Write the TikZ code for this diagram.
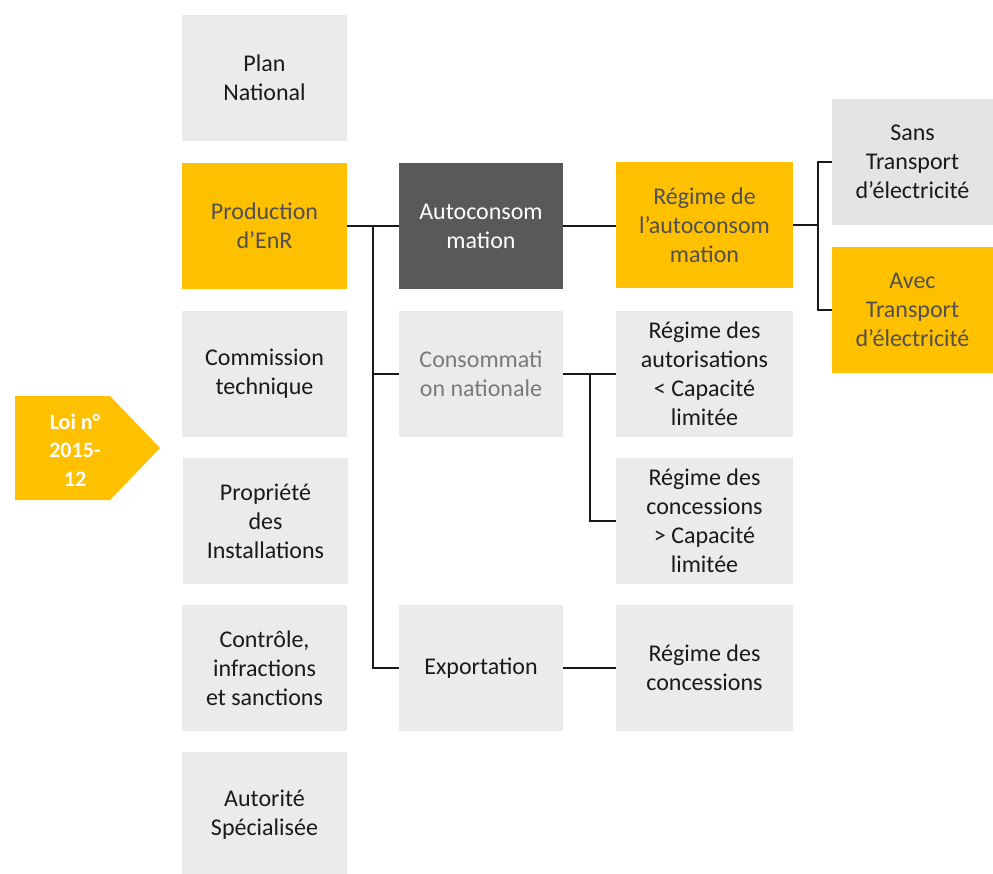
\documentclass[tikz,border=0pt]{standalone}
\usepackage{fontspec}
\setmainfont{Carlito}
\definecolor{orng}{HTML}{FFC000}
\definecolor{lgrey}{HTML}{EBEBEB}
\definecolor{lgrey2}{HTML}{E4E4E4}
\definecolor{dgrey}{HTML}{595959}
\definecolor{otext}{HTML}{505050}
\definecolor{mtext}{HTML}{7A7A7A}
\definecolor{ltext}{HTML}{1A1A1A}
\begin{document}
\begin{tikzpicture}[x=1pt,y=-1pt,
  box/.style={rectangle,inner sep=0pt,minimum height=126pt,align=center,
    font=\fontsize{24}{29}\selectfont},
  colL/.style={box,minimum width=165pt},
  colM/.style={box,minimum width=164pt},
  colR/.style={box,minimum width=177pt},
  colF/.style={box,minimum width=161pt},
  gbox/.style={fill=lgrey,text=ltext},
  obox/.style={fill=orng,text=otext},
  conn/.style={line width=1.4pt,draw=black!90}]
\useasboundingbox (0,0) rectangle (993,873);
\begin{scope}
\clip (0,0) rectangle (993,873);
% left column
\node[colL,gbox] (plan) at (264.5,78) {Plan\\National};
\node[colL,obox] (prod) at (264.5,226) {Production\\d’EnR};
\node[colL,gbox] (comm) at (264.5,374) {Commission\\technique};
\node[colL,gbox] (prop) at (265.5,521) {Propriété\\des\\Installations};
\node[colL,gbox] (ctrl) at (264.5,668) {Contrôle,\\infractions\\et sanctions};
\node[colL,gbox] (auto) at (264.5,815) {Autorité\\Spécialisée};
% middle column
\node[colM,fill=dgrey,text=white] (autoc) at (481,226) {Autoconsom\\mation};
\node[colM,gbox,text=mtext] (cons) at (481,374) {Consommati\\on nationale};
\node[colM,gbox] (expo) at (481,668) {Exportation};
% right column
\node[colR,obox] (rauto) at (704.5,225) {Régime de\\l’autoconsom\\mation};
\node[colR,gbox] (raut) at (704.5,374) {Régime des\\autorisations\\< Capacité\\limitée};
\node[colR,gbox] (rconc) at (704.5,521) {Régime des\\concessions\\> Capacité\\limitée};
\node[colR,gbox] (rconc2) at (704.5,668) {Régime des\\concessions};
% far right
\node[colF,fill=lgrey2,text=ltext] (sans) at (912.5,162) {Sans\\Transport\\d’électricité};
\node[colF,obox] (avec) at (912.5,310) {Avec\\Transport\\d’électricité};
\end{scope}
% Loi arrow
\fill[orng] (15,396) -- (110,396) -- (160,448) -- (110,500) -- (15,500) -- cycle;
\node[align=center,text=white,font=\fontsize{22}{28.5}\selectfont\bfseries] (loi) at (75,450) {Loi n°\\2015-\\12};
% connectors
\coordinate (j1) at (373,226);
\draw[conn] (prod.east) -- (autoc.west);
\draw[conn] (j1) -- (j1 |- expo.west) -- (expo.west);
\draw[conn] (j1 |- cons.west) -- (cons.west);
\draw[conn] (autoc.east) -- (autoc.east -| rauto.west);
\coordinate (j2) at (818,225);
\draw[conn] (rauto.east) -- (j2);
\draw[conn] (sans.west) -- (j2 |- sans.west) -- (j2 |- avec.west) -- (avec.west);
\coordinate (j3) at (590,374);
\draw[conn] (cons.east) -- (raut.west);
\draw[conn] (j3) -- (j3 |- rconc.west) -- (rconc.west);
\draw[conn] (expo.east) -- (rconc2.west);
\end{tikzpicture}
\end{document}
